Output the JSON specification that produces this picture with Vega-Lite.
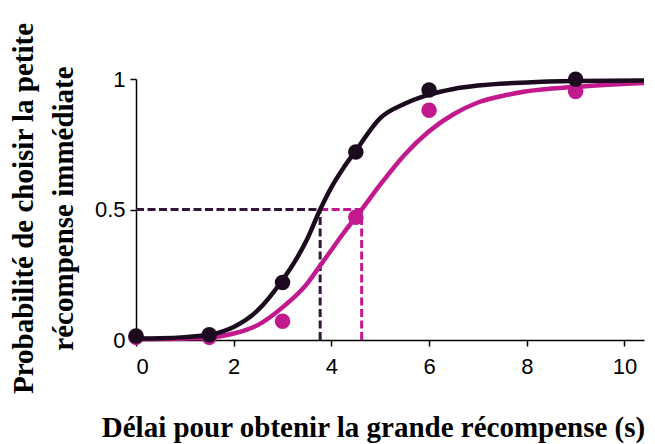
{
  "$schema": "https://vega.github.io/schema/vega-lite/v6.json",
  "width": 508,
  "height": 261,
  "autosize": {"type": "none"},
  "padding": {"left": 136, "top": 79, "right": 11, "bottom": 104},
  "background": "white",
  "config": {
    "view": {"stroke": null},
    "axis": {
      "grid": false,
      "domainColor": "#000000",
      "tickColor": "#000000",
      "domainWidth": 1.5,
      "tickWidth": 1.5,
      "tickSize": 6,
      "labelFont": "Liberation Sans",
      "labelFontSize": 22,
      "labelColor": "#000000",
      "titleFont": "Liberation Serif",
      "titleFontSize": 29,
      "titleFontWeight": "bold",
      "titleColor": "#000000"
    }
  },
  "datasets": {
    "courbes": [
      {"groupe": "noir", "delai": 0, "prob": 0.006},
      {"groupe": "noir", "delai": 0.5, "prob": 0.007},
      {"groupe": "noir", "delai": 1, "prob": 0.011},
      {"groupe": "noir", "delai": 1.5, "prob": 0.02},
      {"groupe": "noir", "delai": 2, "prob": 0.05},
      {"groupe": "noir", "delai": 2.5, "prob": 0.115},
      {"groupe": "noir", "delai": 3, "prob": 0.23},
      {"groupe": "noir", "delai": 3.25, "prob": 0.3},
      {"groupe": "noir", "delai": 3.5, "prob": 0.385},
      {"groupe": "noir", "delai": 3.77, "prob": 0.5},
      {"groupe": "noir", "delai": 4, "prob": 0.585},
      {"groupe": "noir", "delai": 4.25, "prob": 0.66},
      {"groupe": "noir", "delai": 4.5, "prob": 0.725},
      {"groupe": "noir", "delai": 5, "prob": 0.85},
      {"groupe": "noir", "delai": 5.5, "prob": 0.905},
      {"groupe": "noir", "delai": 6, "prob": 0.94},
      {"groupe": "noir", "delai": 6.5, "prob": 0.962},
      {"groupe": "noir", "delai": 7, "prob": 0.975},
      {"groupe": "noir", "delai": 8, "prob": 0.987},
      {"groupe": "noir", "delai": 9, "prob": 0.992},
      {"groupe": "noir", "delai": 10.4, "prob": 0.994},
      {"groupe": "magenta", "delai": 0, "prob": 0.003},
      {"groupe": "magenta", "delai": 0.5, "prob": 0.004},
      {"groupe": "magenta", "delai": 1, "prob": 0.006},
      {"groupe": "magenta", "delai": 1.5, "prob": 0.01},
      {"groupe": "magenta", "delai": 2, "prob": 0.025},
      {"groupe": "magenta", "delai": 2.5, "prob": 0.058},
      {"groupe": "magenta", "delai": 3, "prob": 0.125},
      {"groupe": "magenta", "delai": 3.5, "prob": 0.215},
      {"groupe": "magenta", "delai": 3.77, "prob": 0.285},
      {"groupe": "magenta", "delai": 4, "prob": 0.345},
      {"groupe": "magenta", "delai": 4.25, "prob": 0.41},
      {"groupe": "magenta", "delai": 4.62, "prob": 0.5},
      {"groupe": "magenta", "delai": 5, "prob": 0.595},
      {"groupe": "magenta", "delai": 5.5, "prob": 0.71},
      {"groupe": "magenta", "delai": 6, "prob": 0.8},
      {"groupe": "magenta", "delai": 6.5, "prob": 0.865},
      {"groupe": "magenta", "delai": 7, "prob": 0.91},
      {"groupe": "magenta", "delai": 7.5, "prob": 0.935},
      {"groupe": "magenta", "delai": 8, "prob": 0.953},
      {"groupe": "magenta", "delai": 9, "prob": 0.97},
      {"groupe": "magenta", "delai": 10.4, "prob": 0.985}
    ],
    "points": [
      {"groupe": "magenta", "delai": 0, "prob": 0.01},
      {"groupe": "magenta", "delai": 1.5, "prob": 0.01},
      {"groupe": "magenta", "delai": 3, "prob": 0.072},
      {"groupe": "magenta", "delai": 4.5, "prob": 0.47},
      {"groupe": "magenta", "delai": 6, "prob": 0.88},
      {"groupe": "magenta", "delai": 9, "prob": 0.952},
      {"groupe": "noir", "delai": 0, "prob": 0.015},
      {"groupe": "noir", "delai": 1.5, "prob": 0.02},
      {"groupe": "noir", "delai": 3, "prob": 0.22},
      {"groupe": "noir", "delai": 4.5, "prob": 0.72},
      {"groupe": "noir", "delai": 6, "prob": 0.958},
      {"groupe": "noir", "delai": 9, "prob": 0.999}
    ],
    "seuils": [
      {"groupe": "noir", "delai": 0, "delai_fin": 3.77, "prob": 0.5, "prob_fin": 0.5},
      {"groupe": "noir", "delai": 3.77, "delai_fin": 3.77, "prob": 0, "prob_fin": 0.5},
      {"groupe": "magenta", "delai": 3.77, "delai_fin": 4.62, "prob": 0.5, "prob_fin": 0.5},
      {"groupe": "magenta", "delai": 4.62, "delai_fin": 4.62, "prob": 0, "prob_fin": 0.5}
    ]
  },
  "encoding": {
    "x": {
      "field": "delai",
      "type": "quantitative",
      "scale": {"domain": [0, 10.4], "nice": false, "zero": false},
      "axis": {
        "title": "Délai pour obtenir la grande récompense (s)",
        "values": [0, 2, 4, 6, 8, 10],
        "labelPadding": 10,
        "titleBaseline": "alphabetic",
        "titleX": 237,
        "titleY": 96
      }
    },
    "y": {
      "field": "prob",
      "type": "quantitative",
      "scale": {"domain": [0, 1], "nice": false},
      "axis": {
        "title": ["Probabilité de choisir la petite", "récompense immédiate"],
        "titleLineHeight": 40,
        "titleBaseline": "alphabetic",
        "titleX": -104,
        "titleY": 129,
        "values": [0, 0.5, 1],
        "format": "~g",
        "labelPadding": 5
      }
    },
    "color": {
      "field": "groupe",
      "type": "nominal",
      "scale": {"domain": ["noir", "magenta"], "range": ["#1c0b1e", "#c2198e"]},
      "legend": null
    }
  },
  "layer": [
    {
      "data": {"name": "seuils"},
      "mark": {"type": "rule", "strokeWidth": 3, "strokeDash": [8, 3.5]},
      "encoding": {
        "x2": {"field": "delai_fin"},
        "y2": {"field": "prob_fin"},
        "color": {
          "field": "groupe",
          "type": "nominal",
          "scale": null
        },
        "stroke": {
          "field": "groupe",
          "type": "nominal",
          "scale": {"domain": ["noir", "magenta"], "range": ["#34163a", "#c2198e"]},
          "legend": null
        }
      }
    },
    {
      "data": {"name": "courbes"},
      "transform": [{"filter": "datum.groupe === 'magenta'"}],
      "mark": {"type": "line", "strokeWidth": 4.5, "interpolate": "monotone"},
      "encoding": {}
    },
    {
      "data": {"name": "points"},
      "transform": [{"filter": "datum.groupe === 'magenta'"}],
      "mark": {"type": "circle", "size": 240, "opacity": 1},
      "encoding": {}
    },
    {
      "data": {"name": "courbes"},
      "transform": [{"filter": "datum.groupe === 'noir'"}],
      "mark": {"type": "line", "strokeWidth": 4.5, "interpolate": "monotone"},
      "encoding": {}
    },
    {
      "data": {"name": "points"},
      "transform": [{"filter": "datum.groupe === 'noir'"}],
      "mark": {"type": "circle", "size": 240, "opacity": 1},
      "encoding": {}
    }
  ]
}
